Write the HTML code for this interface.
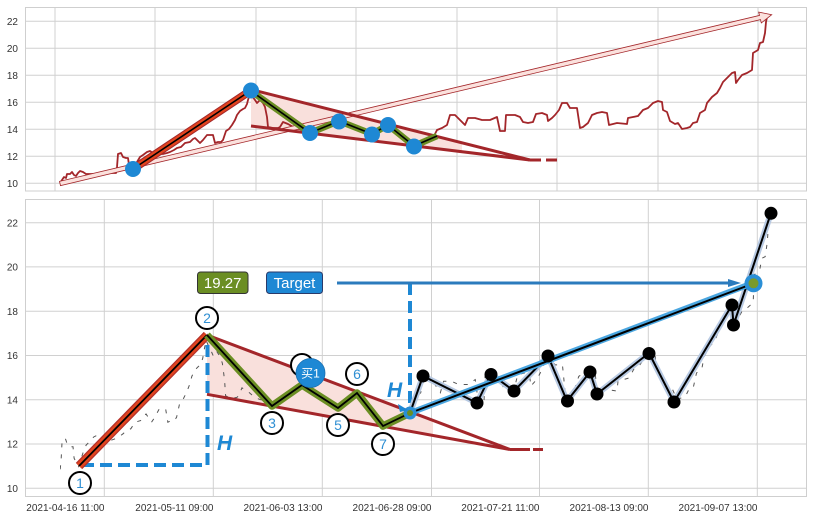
<!DOCTYPE html>
<html><head><meta charset="utf-8"><style>
html,body{margin:0;padding:0;background:#fff;}
svg{display:block;font-family:"Liberation Sans","Noto Sans CJK SC",sans-serif;}
</style></head><body>
<svg width="813" height="520" viewBox="0 0 813 520" xmlns="http://www.w3.org/2000/svg">
<defs>
<clipPath id="ctop"><rect x="25" y="7" width="782" height="184"/></clipPath>
<clipPath id="cbot"><rect x="60" y="199" width="747" height="298"/></clipPath>
</defs>
<rect width="813" height="520" fill="#fff"/>

<!-- ===== TOP PANEL ===== -->
<g stroke="#d0d0d0" stroke-width="1">
<line x1="25" y1="21.3" x2="807" y2="21.3"/><line x1="25" y1="48.3" x2="807" y2="48.3"/>
<line x1="25" y1="75.3" x2="807" y2="75.3"/><line x1="25" y1="102.3" x2="807" y2="102.3"/>
<line x1="25" y1="129.3" x2="807" y2="129.3"/><line x1="25" y1="156.3" x2="807" y2="156.3"/>
<line x1="25" y1="183.3" x2="807" y2="183.3"/>
<line x1="55" y1="7" x2="55" y2="191"/><line x1="155" y1="7" x2="155" y2="191"/>
<line x1="256" y1="7" x2="256" y2="191"/><line x1="356" y1="7" x2="356" y2="191"/>
<line x1="457" y1="7" x2="457" y2="191"/><line x1="557" y1="7" x2="557" y2="191"/>
<line x1="658" y1="7" x2="658" y2="191"/><line x1="758" y1="7" x2="758" y2="191"/>
</g>
<rect x="25.5" y="7.5" width="781" height="183.5" fill="none" stroke="#cfcfcf" stroke-width="1"/>
<g font-size="10" fill="#333" text-anchor="end">
<text x="18" y="25">22</text><text x="18" y="52">20</text><text x="18" y="79">18</text>
<text x="18" y="106">16</text><text x="18" y="133">14</text><text x="18" y="160">12</text><text x="18" y="187">10</text>
</g>
<g clip-path="url(#ctop)">
<polygon points="251,89.5 462,143.2 462,151.7 251,126" fill="#f9e0dc"/>
<path fill="none" stroke="#a3262a" stroke-width="1.8" stroke-linejoin="round" d="M60,183 L62,180 L64,177 L66,178 L67,174 L70,174 L72,172 L74,175 L76,176 L78,173 L80,171 L83,172 L86,174 L100,174 L110,173 L116,173 L117,167 L118,154 L121,153 L123,157 L126,158 L128,158 L129,165 L133,170 L137,162 L140,157 L143,155 L147,152 L150,151 L153,153 L157,155 L160,154 L163,154 L167,153 L170,152 L174,150 L177,148 L181,147 L185,143 L190,142 L193,139 L195,138 L198,141 L200,143 L203,140 L207,135 L210,135 L213,135 L215,143 L218,142 L221,142 L223,140 L226,131 L229,129 L232,125 L235,120 L237,115 L240,111 L243,109 L245,108 L247,104 L248,100 L250,93 L252,96 L255,100 L257,103 L260,100 L263,103 L265,107 L267,117 L268,127 L273,128 L278,128 L280,127 L283,122 L288,124 L295,128 L303,130 L310,131 L318,128 L326,125 L333,122 L339,120 L346,123 L353,127 L360,129 L367,132 L372,133 L379,129 L385,125 L389,124 L394,129 L400,135 L407,140 L414,145 L420,143 L428,140 L434,136 L437,130 L442,128 L447,125 L450,115 L455,115 L458,118 L461,121 L465,125 L468,118 L475,118 L482,120 L490,120 L497,117 L500,131 L505,131 L506,115 L515,115 L520,117 L523,122 L528,123 L533,122 L536,114 L542,113 L547,115 L548,121 L552,118 L555,115 L559,110 L562,103 L567,103 L570,108 L577,108 L580,128 L583,127 L588,123 L592,115 L597,113 L602,112 L607,113 L609,125 L617,123 L627,124 L628,118 L633,117 L638,116 L643,110 L648,108 L653,103 L658,101 L662,102 L663,110 L667,112 L670,121 L675,124 L678,123 L682,129 L687,128 L690,127 L693,123 L697,122 L700,113 L705,110 L707,103 L712,97 L717,93 L720,88 L723,82 L728,77 L732,73 L735,72 L736,83 L738,80 L742,75 L747,73 L752,70 L753,53 L758,50 L760,43 L763,42 L765,33 L766,22 L767,17"/>
<polygon points="59.5,181.4 759.5,15.4 758.7,12.1 771.7,14.7 761.3,22.9 760.5,19.6 60.5,185.6" fill="#fbe1dd" stroke="#a3262a" stroke-width="0.8" stroke-linejoin="miter"/>
<g stroke="#a3262a" stroke-width="3" fill="none" stroke-linecap="butt">
<line x1="251" y1="89.5" x2="530" y2="160"/>
<line x1="251" y1="126" x2="530" y2="160"/>
<line x1="530" y1="160" x2="557" y2="160" stroke-dasharray="11,5"/>
</g>
<line x1="133" y1="169" x2="250" y2="91" stroke="#a3262a" stroke-width="8"/>
<line x1="133" y1="169" x2="250" y2="91" stroke="#e2441f" stroke-width="6"/>
<line x1="133" y1="169" x2="250" y2="91" stroke="#000" stroke-width="1.6"/>
<polyline points="251,91 310,133 339,121 372,134 388,125 414,146 437,136" fill="none" stroke="#6b8e23" stroke-width="6.5" stroke-linejoin="round"/>
<polyline points="251,91 310,133 339,121 372,134 388,125 414,146 437,136" fill="none" stroke="#000" stroke-width="1.6"/>
<g fill="#1e88d4">
<circle cx="133" cy="169" r="8"/><circle cx="251" cy="90.5" r="8"/>
<circle cx="310" cy="133" r="8"/><circle cx="339" cy="121.5" r="8"/>
<circle cx="372" cy="134.5" r="8"/><circle cx="388" cy="125" r="8"/>
<circle cx="414" cy="146.5" r="8"/>
</g>
</g>

<!-- ===== BOTTOM PANEL ===== -->
<g stroke="#d0d0d0" stroke-width="1">
<line x1="25" y1="222.7" x2="807" y2="222.7"/><line x1="25" y1="266.9" x2="807" y2="266.9"/>
<line x1="25" y1="311.2" x2="807" y2="311.2"/><line x1="25" y1="355.5" x2="807" y2="355.5"/>
<line x1="25" y1="399.7" x2="807" y2="399.7"/><line x1="25" y1="444" x2="807" y2="444"/>
<line x1="25" y1="488.3" x2="807" y2="488.3"/>
<line x1="104.3" y1="199" x2="104.3" y2="497"/><line x1="213.3" y1="199" x2="213.3" y2="497"/>
<line x1="322.3" y1="199" x2="322.3" y2="497"/><line x1="431.5" y1="199" x2="431.5" y2="497"/>
<line x1="539.5" y1="199" x2="539.5" y2="497"/><line x1="648.3" y1="199" x2="648.3" y2="497"/>
<line x1="757.3" y1="199" x2="757.3" y2="497"/>
</g>
<rect x="25.5" y="199.5" width="781" height="297" fill="none" stroke="#cfcfcf" stroke-width="1"/>
<g font-size="10" fill="#333" text-anchor="end">
<text x="18" y="226.3">22</text><text x="18" y="270.5">20</text><text x="18" y="314.8">18</text>
<text x="18" y="359.1">16</text><text x="18" y="403.3">14</text><text x="18" y="447.6">12</text><text x="18" y="491.9">10</text>
<text x="104.5" y="511">2021-04-16 11:00</text>
<text x="213.5" y="511">2021-05-11 09:00</text>
<text x="322.5" y="511">2021-06-03 13:00</text>
<text x="431.5" y="511">2021-06-28 09:00</text>
<text x="539.5" y="511">2021-07-21 11:00</text>
<text x="648.5" y="511">2021-08-13 09:00</text>
<text x="757.5" y="511">2021-09-07 13:00</text>
</g>

<polygon points="207,335 433,420.8 433,435.5 207,394.3" fill="#f9e0dc"/>

<g clip-path="url(#cbot)">
<g transform="matrix(1.09,0,0,1.6393,-66.5,187.8)">
<path fill="none" stroke="#555" stroke-width="1" vector-effect="non-scaling-stroke" stroke-dasharray="4,7" d="M60,183 L62,180 L64,177 L66,178 L67,174 L70,174 L72,172 L74,175 L76,176 L78,173 L80,171 L83,172 L86,174 L100,174 L110,173 L116,173 L117,167 L118,154 L121,153 L123,157 L126,158 L128,158 L129,165 L133,170 L137,162 L140,157 L143,155 L147,152 L150,151 L153,153 L157,155 L160,154 L163,154 L167,153 L170,152 L174,150 L177,148 L181,147 L185,143 L190,142 L193,139 L195,138 L198,141 L200,143 L203,140 L207,135 L210,135 L213,135 L215,143 L218,142 L221,142 L223,140 L226,131 L229,129 L232,125 L235,120 L237,115 L240,111 L243,109 L245,108 L247,104 L248,100 L250,93 L252,96 L255,100 L257,103 L260,100 L263,103 L265,107 L267,117 L268,127 L273,128 L278,128 L280,127 L283,122 L288,124 L295,128 L303,130 L310,131 L318,128 L326,125 L333,122 L339,120 L346,123 L353,127 L360,129 L367,132 L372,133 L379,129 L385,125 L389,124 L394,129 L400,135 L407,140 L414,145 L420,143 L428,140 L434,136 L437,130 L442,128 L447,125 L450,115 L455,115 L458,118 L461,121 L465,125 L468,118 L475,118 L482,120 L490,120 L497,117 L500,131 L505,131 L506,115 L515,115 L520,117 L523,122 L528,123 L533,122 L536,114 L542,113 L547,115 L548,121 L552,118 L555,115 L559,110 L562,103 L567,103 L570,108 L577,108 L580,128 L583,127 L588,123 L592,115 L597,113 L602,112 L607,113 L609,125 L617,123 L627,124 L628,118 L633,117 L638,116 L643,110 L648,108 L653,103 L658,101 L662,102 L663,110 L667,112 L670,121 L675,124 L678,123 L682,129 L687,128 L690,127 L693,123 L697,122 L700,113 L705,110 L707,103 L712,97 L717,93 L720,88 L723,82 L728,77 L732,73 L735,72 L736,83 L738,80 L742,75 L747,73 L752,70 L753,53 L758,50 L760,43 L763,42 L765,33 L766,22 L767,17"/>
</g>
</g>

<g stroke="#a3262a" stroke-width="3" fill="none">
<line x1="207" y1="335" x2="510" y2="449.5"/>
<line x1="207" y1="394.3" x2="510" y2="449.5"/>
<line x1="510" y1="449.5" x2="545" y2="449.5" stroke-dasharray="20,3,10,3"/>
</g>

<g stroke="#1e88d4" stroke-width="4" fill="none" stroke-dasharray="12,6">
<line x1="82" y1="465" x2="207" y2="465"/>
<line x1="207.5" y1="465" x2="207.5" y2="338"/>
<line x1="410" y1="283" x2="410" y2="410"/>
</g>

<line x1="79" y1="466" x2="207" y2="335" stroke="#b3302a" stroke-width="9"/>
<line x1="79" y1="466" x2="207" y2="335" stroke="#e2441f" stroke-width="6.5"/>
<line x1="79" y1="466" x2="207" y2="335" stroke="#000" stroke-width="1.8"/>

<polyline points="207,335 272,406 302,385 338,408 357,393 383,426 410,413" fill="none" stroke="#6b8e23" stroke-width="7.5" stroke-linejoin="round"/>
<polyline points="207,335 272,406 302,385 338,408 357,393 383,426 410,413" fill="none" stroke="#000" stroke-width="1.8"/>

<line x1="337" y1="283" x2="733" y2="283" stroke="#2b7bbd" stroke-width="3"/>
<polygon points="728,279 741,283 728,287" fill="#2b7bbd"/>

<polyline points="410,413 423,376 477,403 491,374 514,391 548,356 567,401 590,372 597,394 649,353 674,402 732,305 733.5,325 771,213" fill="none" stroke="#b7c9e2" stroke-width="6" stroke-linejoin="round"/>
<polyline points="410,413 423,376 477,403 491,374 514,391 548,356 567,401 590,372 597,394 649,353 674,402 732,305 733.5,325 771,213" fill="none" stroke="#000" stroke-width="2" stroke-linejoin="round"/>

<line x1="410" y1="413" x2="753" y2="283" stroke="#4aa6e0" stroke-width="6"/>
<line x1="410" y1="413" x2="752" y2="284" stroke="#000" stroke-width="2"/>

<g fill="#000">
<circle cx="423" cy="376" r="6.5"/><circle cx="477" cy="403" r="6.5"/><circle cx="491" cy="374.5" r="6.5"/>
<circle cx="514" cy="391" r="6.5"/><circle cx="548" cy="356" r="6.5"/><circle cx="567.5" cy="401" r="6.5"/>
<circle cx="590" cy="372" r="6.5"/><circle cx="597" cy="394" r="6.5"/><circle cx="649" cy="353.5" r="6.5"/>
<circle cx="674" cy="402" r="6.5"/><circle cx="732" cy="305" r="6.5"/><circle cx="733.5" cy="325" r="6.5"/>
<circle cx="771" cy="213.3" r="6.5"/>
</g>

<circle cx="753.5" cy="283.3" r="9" fill="#2a8fd6"/>
<circle cx="753.5" cy="283.3" r="5" fill="#7a9a2a"/>
<circle cx="410" cy="413" r="6.5" fill="#2a8fd6"/>
<circle cx="410" cy="413" r="3" fill="#6b8e23"/>
<polygon points="398,404 408,410 400,412" fill="#1e88d4"/>

<g fill="#1e88d4" font-weight="bold" font-style="italic" font-size="21">
<text x="217" y="450">H</text>
<text x="387" y="397">H</text>
</g>

<g fill="#fff" stroke="#000" stroke-width="2">
<circle cx="80" cy="483" r="11"/>
<circle cx="207" cy="318" r="11"/>
<circle cx="272" cy="423" r="11"/>
<circle cx="302" cy="365" r="11"/>
<circle cx="338" cy="425" r="11"/>
<circle cx="357" cy="374" r="11"/>
<circle cx="383" cy="444" r="11"/>
</g>
<g fill="#2f8fd3" font-size="14" text-anchor="middle">
<text x="80" y="488">1</text>
<text x="207" y="323">2</text>
<text x="272" y="428">3</text>
<text x="338" y="430">5</text>
<text x="357" y="379">6</text>
<text x="383" y="449">7</text>
</g>

<circle cx="310.5" cy="373" r="14.5" fill="#1e88d4" stroke="#1a6fb0" stroke-width="0.8"/>
<text x="310.5" y="377.5" fill="#fff" font-size="12" text-anchor="middle" font-family="'Liberation Sans','Noto Sans CJK SC',sans-serif">买1</text>

<rect x="197.5" y="272" width="50.5" height="21.5" rx="3" fill="#6b8e23" stroke="#333" stroke-width="1"/>
<text x="222.7" y="288" fill="#fff" font-size="15" text-anchor="middle">19.27</text>
<rect x="266.5" y="272" width="56" height="21.5" rx="3" fill="#1e88d4" stroke="#2a3a6a" stroke-width="1"/>
<text x="294.5" y="288" fill="#fff" font-size="15" text-anchor="middle">Target</text>
</svg>
</body></html>
